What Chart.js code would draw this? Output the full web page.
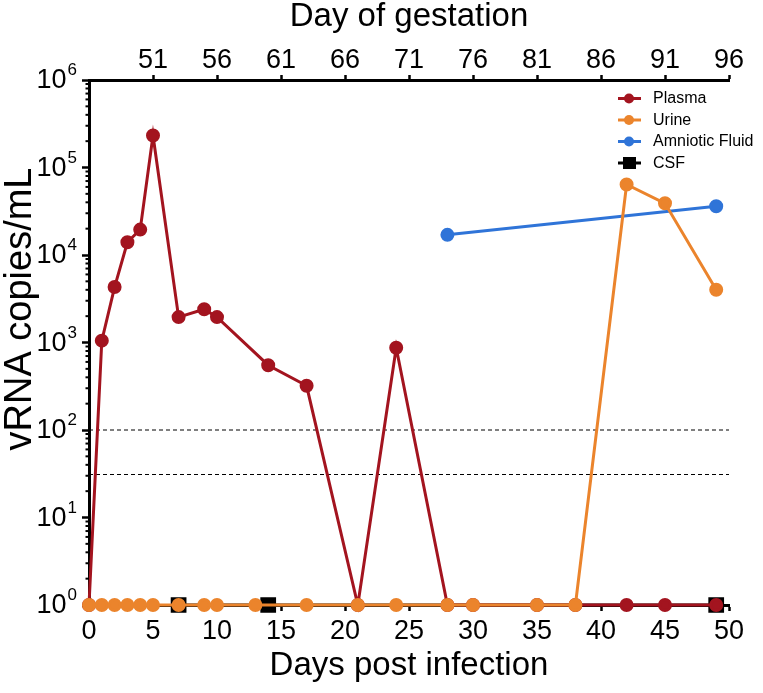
<!DOCTYPE html>
<html><head><meta charset="utf-8">
<script src="https://cdn.jsdelivr.net/npm/chart.js@4/dist/chart.umd.min.js"></script>
<style>html,body{margin:0;padding:0;background:#fff;} canvas{display:block;}</style>
</head><body>
<canvas id="c" width="763" height="693"></canvas>
<script>
const plasmaDays   = [0,1,2,3,4,5,7,9,10,14,17,21,24,28,30,35,38,42,45,49];
const plasmaValues = [1,1050,4300,14000,19500,232000,1950,2400,1950,550,320,1,870,1,1,1,1,1,1,1];
const urineDays    = [0,1,2,3,4,5,7,9,10,13,17,21,24,28,30,35,38,42,45,49];
const urineValues  = [1,1,1,1,1,1,1,1,1,1,1,1,1,1,1,1,1,64000,39000,4000];
const amnioticDays   = [28,49];
const amnioticValues = [17000,36000];
const csfDays   = [7,14,49];
const csfValues = [1,1,1];
const thresholds = [100,31];
const dpiRange = [0,50];
const gestationRange = [46,96];
const gestationTicks = [51,56,61,66,71,76,81,86,91,96];
const yTickPowers = [0,1,2,3,4,5,6];
const legendLabels = ['Plasma','Urine','Amniotic Fluid','CSF'];
const yTitle = 'vRNA copies/mL';

const FONT = '"Liberation Sans", Arial, sans-serif';
const RED = '#A3141F', ORANGE = '#EB842C', BLUE = '#2F74D8', BLACK = '#000000';

const pts = (xs, ys) => xs.map((x,i)=>({x, y: ys[i]}));

const datasets = [
  {label:'Plasma', data: pts(plasmaDays, plasmaValues), borderColor: RED, backgroundColor: RED,
   borderWidth: 3, pointRadius: 5.5, pointHoverRadius: 5.5, order: 1, clip: false},
  {label:'Urine', data: pts(urineDays, urineValues), borderColor: ORANGE, backgroundColor: ORANGE,
   borderWidth: 3, pointRadius: 5.5, pointHoverRadius: 5.5, order: 0, clip: false},
  {label:'Amniotic Fluid', data: pts(amnioticDays, amnioticValues), borderColor: BLUE, backgroundColor: BLUE,
   borderWidth: 3, pointRadius: 5.5, pointHoverRadius: 5.5, order: 2, clip: false},
  {label:'CSF', data: pts(csfDays, csfValues), borderColor: BLACK, backgroundColor: BLACK,
   borderWidth: 3, pointStyle: 'rect', pointRadius: 9, pointHoverRadius: 9, order: 3, clip: false},
];
thresholds.forEach(t => datasets.push({
  label: 'lod', data: pts(dpiRange, [t,t]), borderColor: BLACK, borderWidth: 1, borderDash: [4,3],
  pointRadius: 0, order: 4, clip: false
}));

const yLabelsPlugin = {
  id: 'yLabels',
  afterDraw(chart) {
    const ctx = chart.ctx, y = chart.scales.y;
    ctx.save();
    ctx.fillStyle = '#000';
    ctx.strokeStyle = '#000'; ctx.lineWidth = 2;
    for (let p = 0; p < 6; p++) {
      for (let k = 2; k <= 9; k++) {
        const py = y.getPixelForValue(k * Math.pow(10, p));
        ctx.beginPath(); ctx.moveTo(y.right - 3.5, py); ctx.lineTo(y.right, py); ctx.stroke();
      }
    }
    yTickPowers.forEach(p => {
      const py = y.getPixelForValue(Math.pow(10, p));
      ctx.font = '17px ' + FONT;
      ctx.textAlign = 'right'; ctx.textBaseline = 'alphabetic';
      const sup = String(p);
      const sw = ctx.measureText(sup).width;
      ctx.fillText(sup, 77, py - 5);
      ctx.font = '27px ' + FONT;
      ctx.textBaseline = 'middle';
      ctx.fillText('10', 77 - sw - 1, py + 1);
    });
    // axis title
    ctx.translate(21, 309);
    ctx.rotate(-Math.PI / 2);
    ctx.font = '38px ' + FONT;
    ctx.textAlign = 'center'; ctx.textBaseline = 'middle';
    ctx.fillText(yTitle, 0, 0);
    ctx.restore();
  }
};

const legendPlugin = {
  id: 'customLegend',
  afterDraw(chart) {
    const ctx = chart.ctx;
    const colors = [RED, ORANGE, BLUE, BLACK];
    const ys = [98.5, 120, 141.5, 163];
    ctx.save();
    legendLabels.forEach((lab, i) => {
      const yy = ys[i];
      ctx.strokeStyle = colors[i]; ctx.fillStyle = colors[i]; ctx.lineWidth = 3;
      ctx.beginPath(); ctx.moveTo(618, yy); ctx.lineTo(641, yy); ctx.stroke();
      if (i === 3) { ctx.fillRect(623, yy - 6, 13, 12); }
      else { ctx.beginPath(); ctx.arc(629, yy, 5, 0, Math.PI * 2); ctx.fill(); }
      ctx.fillStyle = '#000';
      ctx.font = '16px ' + FONT;
      ctx.textAlign = 'left'; ctx.textBaseline = 'middle';
      ctx.fillText(lab, 653, yy + 0.5);
    });
    ctx.restore();
  }
};

new Chart(document.getElementById('c'), {
  type: 'line',
  data: { datasets },
  options: {
    responsive: false,
    animation: false,
    layout: { padding: { left: 0, right: 34, top: 0, bottom: 0 } },
    plugins: { legend: { display: false }, tooltip: { enabled: false } },
    scales: {
      x: {
        type: 'linear', position: 'bottom', min: dpiRange[0], max: dpiRange[1],
        ticks: { stepSize: 5, color: '#000', font: { size: 27, family: FONT }, padding: 4, maxRotation: 0 },
        grid: { drawOnChartArea: false, drawTicks: true, tickLength: 6, tickWidth: 2.5, tickColor: '#000' },
        border: { display: true, width: 3, color: '#000' },
        title: { display: true, text: 'Days post infection', color: '#000', font: { size: 33, family: FONT, lineHeight: 1 }, padding: { top: 0, bottom: 11 } },
        afterFit(s) { s.height = 88; }
      },
      x2: {
        type: 'linear', position: 'top', min: gestationRange[0], max: gestationRange[1],
        afterBuildTicks(s) { s.ticks = gestationTicks.map(v => ({ value: v })); },
        ticks: { color: '#000', font: { size: 27, family: FONT }, padding: -2, maxRotation: 0 },
        grid: { drawOnChartArea: false, drawTicks: true, tickLength: 5, tickWidth: 2.5, tickColor: '#000' },
        border: { display: true, width: 3, color: '#000' },
        title: { display: true, text: 'Day of gestation', color: '#000', font: { size: 33, family: FONT, lineHeight: 1 }, padding: { top: 0, bottom: 0 } },
        afterFit(s) { s.height = 80; }
      },
      y: {
        type: 'logarithmic', position: 'left', min: 1, max: 1e6,
        afterBuildTicks(s) { s.ticks = yTickPowers.map(p => ({ value: Math.pow(10, p), major: true })); },
        ticks: { display: false },
        grid: { drawOnChartArea: false, drawTicks: true, tickLength: 7, tickWidth: 2.5, tickColor: '#000' },
        border: { display: true, width: 3, color: '#000' },
        title: { display: false },
        afterFit(s) { s.width = 89; }
      }
    }
  },
  plugins: [yLabelsPlugin, legendPlugin]
});
</script>
</body></html>
